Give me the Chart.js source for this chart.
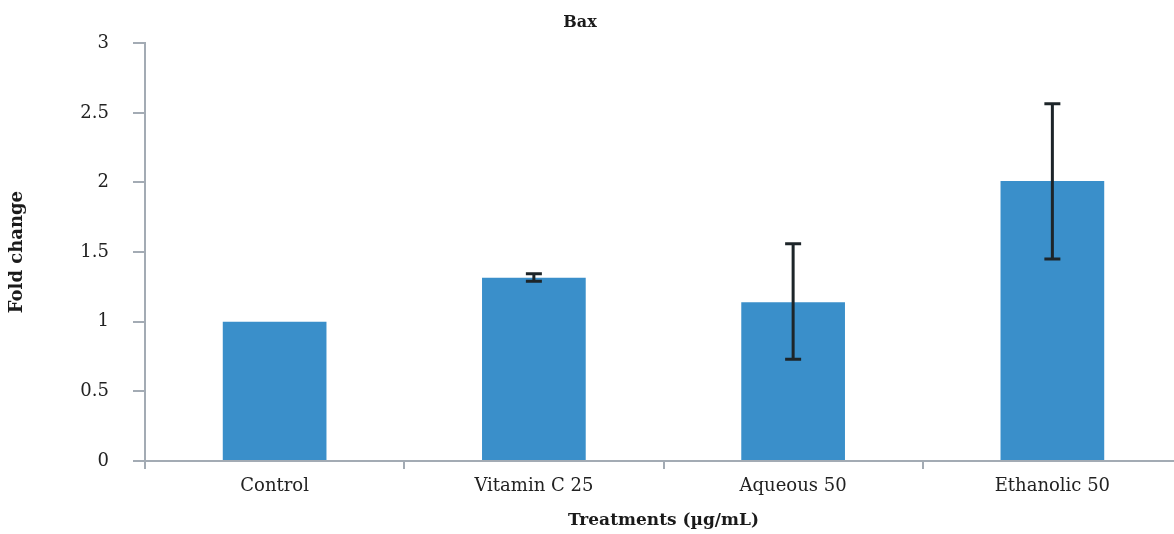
<!DOCTYPE html>
<html>
<head>
<meta charset="utf-8">
<script src="https://cdn.jsdelivr.net/npm/chart.js@4"></script>
<style>
  html, body { margin: 0; padding: 0; background: #ffffff; overflow: hidden; }
  #wrap { position: absolute; left: -22px; top: 0; width: 1204px; height: 534px; }
</style>
</head>
<body>
<div id="wrap"><canvas id="c"></canvas></div>
<script>
// Bax expression: fold change per treatment, mean and error
const categories = ['Control', 'Vitamin C 25', 'Aqueous 50', 'Ethanolic 50'];
const foldChange = [1.0, 1.315, 1.14, 2.01];
const errorLow = [null, 1.29, 0.73, 1.45];
const errorHigh = [null, 1.345, 1.56, 2.565];
const yTicks = [0, 0.5, 1, 1.5, 2, 2.5, 3];

const serif = "'DejaVu Serif', 'Liberation Serif', serif";
const axisGray = '#a3abb4';

// Draws vertical error bars with caps from the low/high arrays
const errorBars = {
  id: 'errorBars',
  afterDatasetsDraw(chart) {
    const ctx = chart.ctx;
    const meta = chart.getDatasetMeta(0);
    const y = chart.scales.y;
    ctx.save();
    ctx.strokeStyle = '#1d2529';
    ctx.lineWidth = 3;
    meta.data.forEach((bar, i) => {
      if (errorLow[i] == null) return;
      const x = bar.x;
      const yLo = y.getPixelForValue(errorLow[i]);
      const yHi = y.getPixelForValue(errorHigh[i]);
      const half = 8;
      ctx.beginPath();
      ctx.moveTo(x, yHi); ctx.lineTo(x, yLo);
      ctx.moveTo(x - half, yHi); ctx.lineTo(x + half, yHi);
      ctx.moveTo(x - half, yLo); ctx.lineTo(x + half, yLo);
      ctx.stroke();
    });
    ctx.restore();
  }
};

new Chart(document.getElementById('c'), {
  type: 'bar',
  data: {
    labels: categories,
    datasets: [{
      data: foldChange,
      backgroundColor: '#3a8fca',
      borderWidth: 0,
      barPercentage: 0.4,
      categoryPercentage: 1.0
    }]
  },
  options: {
    responsive: true,
    maintainAspectRatio: false,
    animation: false,
    layout: { padding: 0 },
    plugins: {
      legend: { display: false },
      tooltip: { enabled: false },
      title: {
        display: true,
        text: 'Bax',
        color: '#1a1a1a',
        font: { family: serif, size: 16, weight: 'bold' },
        padding: { top: 13, bottom: 11 }
      }
    },
    scales: {
      x: {
        offset: true,
        afterFit(scale) { scale.height = 73; },
        border: { display: true, color: axisGray, width: 2 },
        grid: {
          display: true,
          offset: true,
          drawOnChartArea: false,
          drawTicks: true,
          tickLength: 8,
          color: axisGray,
          lineWidth: 2
        },
        ticks: {
          color: '#222222',
          padding: 7,
          maxRotation: 0,
          font: { family: serif, size: 18 }
        },
        title: {
          display: true,
          text: 'Treatments (µg/mL)',
          color: '#1a1a1a',
          font: { family: serif, size: 17, weight: 'bold' },
          padding: { top: 0, bottom: 3 }
        }
      },
      y: {
        min: 0,
        max: 3,
        afterFit(scale) { scale.width = 167; },
        afterBuildTicks(scale) { scale.ticks = yTicks.map(v => ({ value: v })); },
        border: { display: true, color: axisGray, width: 2 },
        grid: {
          display: true,
          drawOnChartArea: false,
          drawTicks: true,
          tickLength: 12,
          color: axisGray,
          lineWidth: 2
        },
        ticks: {
          color: '#222222',
          padding: 24,
          font: { family: serif, size: 18 },
          callback: v => String(v)
        },
        title: {
          display: true,
          text: 'Fold change',
          color: '#1a1a1a',
          font: { family: serif, size: 18, weight: 'bold' },
          padding: { top: 29, bottom: 0 }
        }
      }
    }
  },
  plugins: [errorBars]
});
</script>
</body>
</html>
